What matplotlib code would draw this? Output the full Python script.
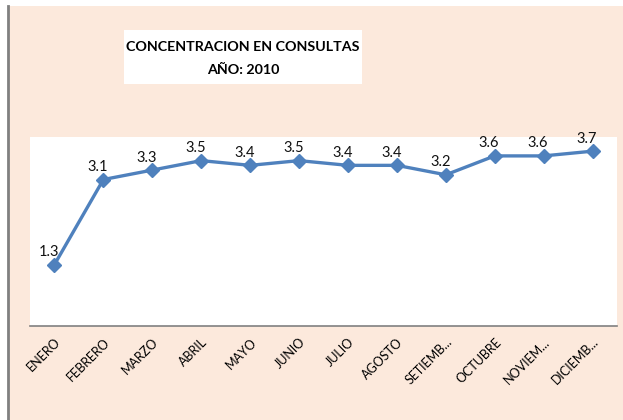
import matplotlib
matplotlib.use("Agg")
import matplotlib.pyplot as plt
from matplotlib.patches import Rectangle
from matplotlib.lines import Line2D

months = ["ENERO", "FEBRERO", "MARZO", "ABRIL", "MAYO", "JUNIO", "JULIO",
          "AGOSTO", "SETIEMB...", "OCTUBRE", "NOVIEM...", "DICIEMB..."]
values = [1.3, 3.1, 3.3, 3.5, 3.4, 3.5, 3.4, 3.4, 3.2, 3.6, 3.6, 3.7]
title_lines = ["CONCENTRACION EN CONSULTAS", "AÑO: 2010"]

plt.rcParams['font.family'] = ['Lato', 'DejaVu Sans']

fig = plt.figure(figsize=(6.23, 4.2), dpi=100)
fig.patch.set_facecolor('white')
W, H = 623, 420
# peach chart area background
fig.patches.append(Rectangle((8 / W, 0), 1 - 8 / W, 1 - 6 / H, transform=fig.transFigure,
                             facecolor='#FCE9DC', edgecolor='none', zorder=-2))
fig.lines.append(Line2D([7.5 / W, 7.5 / W], [0, 1 - 6 / H], transform=fig.transFigure,
                        color='#808080', linewidth=2, zorder=-1))

ax = fig.add_axes([30 / W, 1 - 326 / H, (617 - 30) / W, (326 - 137) / H])
ax.set_zorder(1)
ax.set_facecolor('white')
x = list(range(len(months)))
ax.plot(x, values, color='#4F81BD', linewidth=2.4, marker='D', markersize=7,
        markerfacecolor='#4F81BD', markeredgecolor='#4F81BD', zorder=3, clip_on=False)
for xi, v in zip(x, values):
    ax.annotate(f"{v}", (xi, v), xytext=(-4, 4), textcoords='offset points',
                ha='center', va='bottom', fontsize=10.5, color='#111111')
ax.set_xlim(-0.5, len(months) - 0.5)
ax.set_ylim(0, 4)
ax.set_yticks([])
ax.set_xticks(x)
ax.set_xticklabels(months, rotation=45, ha='right', rotation_mode='anchor', fontsize=9)
ax.tick_params(axis='x', length=0, pad=7)
for s in ['top', 'right', 'left']:
    ax.spines[s].set_visible(False)
ax.spines['bottom'].set_color('#808080')
ax.spines['bottom'].set_linewidth(1.2)

# title box
fig.patches.append(Rectangle((124 / W, 1 - 84 / H), (362 - 124) / W, (84 - 30) / H,
                             transform=fig.transFigure, facecolor='white', edgecolor='none', zorder=-1))
fig.text(243 / W, 1 - 47 / H, title_lines[0], ha='center', va='center', fontsize=10.3,
         fontweight='bold', zorder=3)
fig.text(243 / W, 1 - 70 / H, title_lines[1], ha='center', va='center', fontsize=10.3,
         fontweight='bold', zorder=3)

fig.savefig('out.png', dpi=100)
